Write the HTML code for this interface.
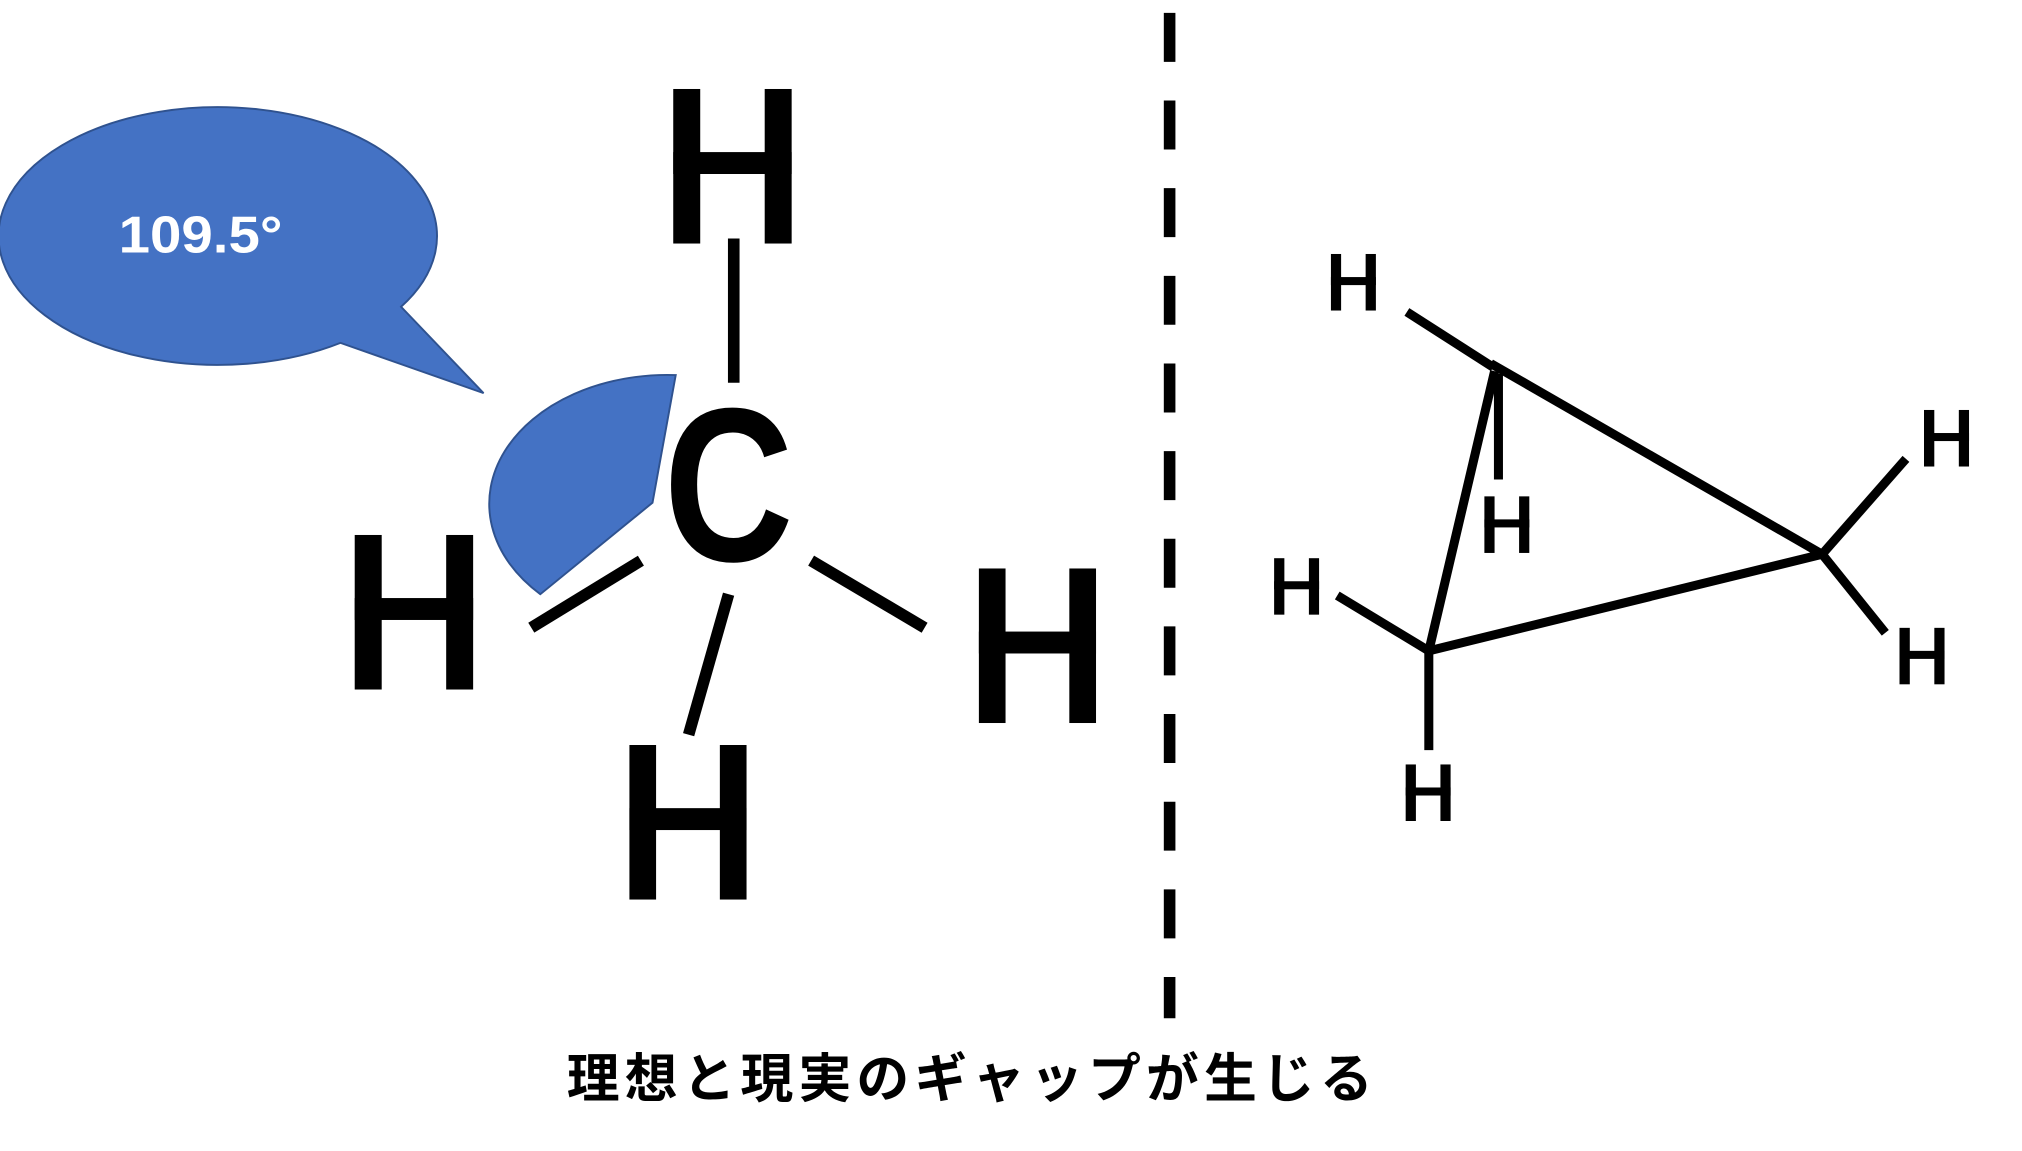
<!DOCTYPE html>
<html><head><meta charset="utf-8"><style>
html,body{margin:0;padding:0;background:#fff;}
svg{display:block;}
</style></head><body>
<svg width="2022" height="1151" viewBox="0 0 1568 893" preserveAspectRatio="none" xmlns="http://www.w3.org/2000/svg">
<defs>
<symbol id="H" viewBox="0 0 92 120" preserveAspectRatio="none">
<rect x="0" y="0" width="21" height="120" fill="#000"/>
<rect x="71" y="0" width="21" height="120" fill="#000"/>
<rect x="0" y="49" width="92" height="17" fill="#000"/>
</symbol>
</defs>
<rect width="1568" height="893" fill="#fff"/>
<line x1="907" y1="10" x2="907" y2="790" stroke="#000" stroke-width="9" stroke-dasharray="38,30"/>
<path d="M310,238 L374,305 L263,266 A170 100 0 1 1 310 238 Z" fill="#4472C4" stroke="#2F528F" stroke-width="1.5" transform="translate(1,0)"/>
<text x="92" y="196" font-family="Liberation Sans, sans-serif" font-weight="bold" font-size="40" fill="#fff" textLength="127" lengthAdjust="spacingAndGlyphs">109.5°</text>
<path d="M506,390 L524,291 A138 100 0 0 0 419 461 Z" fill="#4472C4" stroke="#2F528F" stroke-width="1.5"/>
<use href="#H" x="522" y="69" width="92" height="120"/>
<use href="#H" x="275" y="415" width="92" height="120"/>
<use href="#H" x="759" y="441" width="91" height="120"/>
<use href="#H" x="488" y="578" width="91" height="120"/>
<g transform="translate(565,0) scale(0.82,1)">
<text x="0" y="435" text-anchor="middle" font-family="Liberation Sans, sans-serif" font-weight="bold" font-size="170" fill="#000">C</text>
</g>
<g stroke="#000" stroke-width="9">
<line x1="569" y1="185" x2="569" y2="297"/>
<line x1="497" y1="435" x2="412" y2="487"/>
<line x1="629" y1="435" x2="717" y2="487"/>
<line x1="565" y1="461" x2="534" y2="570"/>
</g>
<g stroke="#000" stroke-width="7" stroke-linecap="butt">
<line x1="1156" y1="282" x2="1413" y2="430"/>
<line x1="1159" y1="288" x2="1108" y2="505"/>
<line x1="1108" y1="505" x2="1413" y2="430"/>
<line x1="1091" y1="242" x2="1158" y2="285"/>
<line x1="1162" y1="290" x2="1162" y2="372"/>
<line x1="1037" y1="462" x2="1108" y2="505"/>
<line x1="1108" y1="505" x2="1108" y2="582"/>
<line x1="1413" y1="430" x2="1478" y2="356"/>
<line x1="1413" y1="430" x2="1462" y2="491"/>
</g>
<use href="#H" x="1032" y="197" width="35" height="44"/>
<use href="#H" x="1151" y="385" width="35" height="44"/>
<use href="#H" x="988" y="433" width="35" height="44"/>
<use href="#H" x="1090" y="593" width="35" height="44"/>
<use href="#H" x="1492" y="318" width="35" height="44"/>
<use href="#H" x="1473" y="487" width="35" height="44"/>
<text x="752" y="851" text-anchor="middle" font-family="Liberation Sans, 'Noto Sans CJK JP', sans-serif" font-weight="bold" font-size="41" textLength="625" lengthAdjust="spacing" fill="#000">理想と現実のギャップが生じる</text>
</svg>
</body></html>
